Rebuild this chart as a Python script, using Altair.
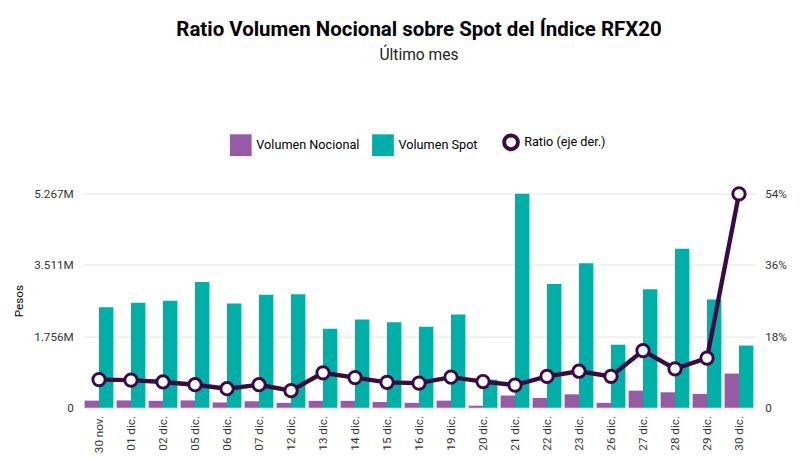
import altair as alt
import pandas as pd

fechas = ["30 nov.","01 dic.","02 dic.","05 dic.","06 dic.","07 dic.","12 dic.","13 dic.","14 dic.","15 dic.","16 dic.","19 dic.","20 dic.","21 dic.","22 dic.","23 dic.","26 dic.","27 dic.","28 dic.","29 dic.","30 dic."]
nocional = [0.175,0.18,0.17,0.18,0.13,0.16,0.12,0.17,0.17,0.14,0.12,0.175,0.05,0.30,0.24,0.33,0.12,0.42,0.38,0.34,0.84]
spot = [2.47,2.58,2.63,3.09,2.56,2.78,2.79,1.94,2.17,2.10,1.99,2.29,0.69,5.26,3.04,3.55,1.55,2.91,3.91,2.66,1.53]
ratio = [7.1,6.96,6.5,5.8,4.8,5.8,4.3,8.8,7.6,6.4,6.2,7.7,6.6,5.7,7.9,9.2,7.9,14.4,9.8,12.5,53.9]
fuente = "Fuente: Matba Rofex y Reuters"

rows = []
for f, n, s in zip(fechas, nocional, spot):
    rows.append({"fecha": f, "serie": "Volumen Nocional", "v": n * 1e6})
    rows.append({"fecha": f, "serie": "Volumen Spot", "v": s * 1e6})
bars_df = pd.DataFrame(rows)
line_df = pd.DataFrame({"fecha": fechas, "ratio": ratio, "serie": ["Ratio (eje der.)"] * len(fechas)})

x = alt.X("fecha:N", sort=fechas, title=None,
          axis=alt.Axis(labelAngle=270, labelFontSize=12, labelColor="#333", ticks=False, domain=False, labelPadding=8),
          scale=alt.Scale(paddingInner=0.1, paddingOuter=0.05))

bars = alt.Chart(bars_df).mark_bar().encode(
    x=x,
    xOffset=alt.XOffset("serie:N", sort=["Volumen Nocional", "Volumen Spot"]),
    y=alt.Y("v:Q", title="Pesos", scale=alt.Scale(domain=[0, 5267000], nice=False),
            axis=alt.Axis(values=[0, 1755667, 3511333, 5267000], labelExpr="datum.value==0?'0':format(datum.value,'.4s')",
                          grid=True, gridColor="#e3e3e3", domain=False, ticks=False, labelFontSize=12, labelColor="#333",
                          titleFontSize=12, titleFontWeight="normal", labelPadding=10, titlePadding=8)),
    color=alt.Color("serie:N", scale=alt.Scale(domain=["Volumen Nocional", "Volumen Spot"], range=["#955ba5", "#00b0a8"]),
                    legend=alt.Legend(title=None, orient="none", legendX=150, legendY=-62, symbolType="square",
                                      symbolSize=500, labelFontSize=13, direction="horizontal", columnPadding=12))
)

line = alt.Chart(line_df).mark_line(color="#3a0a45", strokeWidth=4.5, point=alt.OverlayMarkDef(filled=True, fill="white", stroke="#3a0a45", strokeWidth=3, size=160)).encode(
    x=x,
    y=alt.Y("ratio:Q", title=None, scale=alt.Scale(domain=[0, 54], nice=False),
            axis=alt.Axis(values=[0, 18, 36, 54], labelExpr="datum.value==0?'0':datum.value+'%'", orient="right", grid=False,
                          domain=False, ticks=False, labelFontSize=12, labelColor="#333", labelPadding=10)),
    stroke=alt.Stroke("serie:N", scale=alt.Scale(range=["#3a0a45"]),
                      legend=alt.Legend(title=None, orient="none", legendX=430, legendY=-62, symbolType="circle",
                                        symbolFillColor="white", symbolStrokeWidth=4, symbolSize=200, labelFontSize=13))
)

footer = alt.Chart(pd.DataFrame({"t": [fuente]})).mark_text(align="left", fontSize=11, color="#777").encode(
    text="t:N", x=alt.value(0), y=alt.value(288)
)

chart = alt.layer(bars, line, footer).resolve_scale(y="independent", color="independent").properties(
    width=690, height=220,
    title=alt.TitleParams("Ratio Volumen Nocional sobre Spot del Índice RFX20", subtitle="Último mes",
                          fontSize=21, subtitleFontSize=16, subtitleColor="#222", anchor="middle", offset=72, subtitlePadding=8)
).configure(font="Roboto").configure_view(stroke=None).configure_legend(labelFont="Roboto")

chart.save("out.html", embed_options={"renderer": "svg", "actions": False})
